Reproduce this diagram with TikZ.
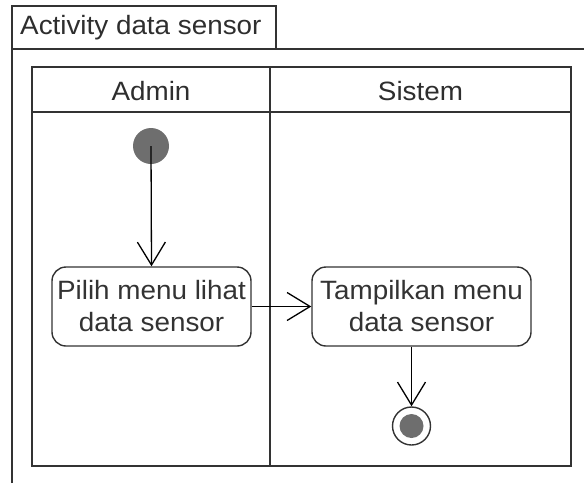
\documentclass[tikz,border=0pt]{standalone}
\usepackage{fontspec}
\setmainfont{Liberation Sans}[FakeStretch=1.05]
\usetikzlibrary{arrows.meta}
\definecolor{ln}{HTML}{333333}
\definecolor{dot}{HTML}{6E6E6E}
\tikzset{
  lbl/.style={inner sep=0pt, font=\fontsize{26.5}{32}\selectfont, text=ln!90!black},
  act/.style={draw=ln, line width=1.4pt, rounded corners=14pt, minimum width=199pt, minimum height=79pt, align=center, inner sep=0pt, font=\fontsize{26.5}{32}\selectfont, text=ln},
  flow/.style={line width=1.3pt, draw=black, -{Straight Barb[length=23pt,width=28pt,line width=1.3pt]}},
  frm/.style={draw=ln, line width=1.6pt},
  lane/.style={draw=ln, line width=2.2pt}
}
\begin{document}
\begin{tikzpicture}[x=1pt,y=-1pt]
\useasboundingbox (0,0) rectangle (584,483);
% frame
\draw[frm] (12,483) -- (12,49) -- (584,49);
\draw[frm] (12,49) -- (12,6) -- (276,6) -- (276,49);
\node[lbl, anchor=west] (title) at (20,28) {Activity data sensor};
% swimlanes
\draw[lane] (32,67) rectangle (571,466);
\draw[lane] (32,112) -- (571,112);
\draw[lane] (270,67) -- (270,466);
\node[lbl] (admin) at (151,91) {Admin};
\node[lbl] (sistem) at (420.5,91) {Sistem};
% nodes
\node[circle, fill=dot, minimum size=36pt, inner sep=0pt] (start) at (151,146) {};
\node[act] (a1) at (151.5,306.5) {Pilih menu lihat\\data sensor};
\node[act, minimum width=219pt] (a2) at (421.5,306.5) {Tampilkan menu\\data sensor};
\node[circle, draw=ln, line width=1.4pt, minimum size=38pt, inner sep=0pt] (end) at (411.5,426) {};
\node[circle, fill=dot, minimum size=24pt, inner sep=0pt] (endin) at (end.center) {};
% flows
\draw[flow] (start.center) -- (a1.north);
\draw[flow] (a1.east) -- (a2.west);
\coordinate (a2b) at (a2.south -| end.north);
\draw[flow] (a2b) -- (end.north);
\end{tikzpicture}
\end{document}
